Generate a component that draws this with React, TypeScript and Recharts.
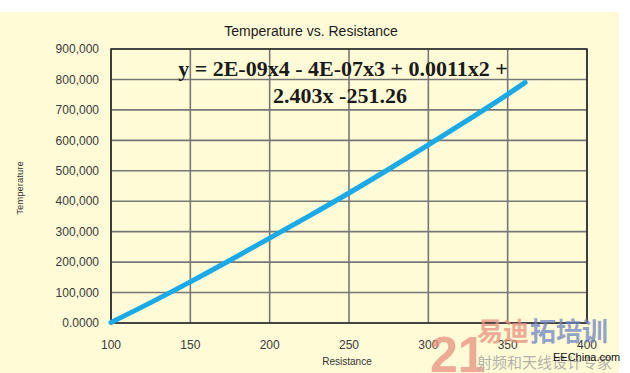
import React from "react";
import { LineChart, Line, XAxis, YAxis, CartesianGrid, ReferenceArea } from "recharts";

const resistance = [100, 125, 150, 175, 200, 225, 250, 275, 300, 325, 350, 361];
const temperature = [2000, 67000, 135000, 206000, 279000, 352000, 427000, 505000, 585000, 667000, 751000, 790000];
const xTicks = [100, 150, 200, 250, 300, 350, 400];
const yTicks = [0, 100000, 200000, 300000, 400000, 500000, 600000, 700000, 800000, 900000];
const equationLines = ["y = 2E-09x4 - 4E-07x3 + 0.0011x2 +", "2.403x -251.26"];

const data = resistance.map((r, i) => ({ r, t: temperature[i] }));

const sans = "'Liberation Sans', Arial, Helvetica, sans-serif";
const serif = "'Liberation Serif', 'Times New Roman', serif";

const fmtY = (v: number) => (v === 0 ? "0.0000" : v.toLocaleString("en-US"));

export default function App() {
  return (
    <div style={{ position: "absolute", left: 0, top: 0, width: 630, height: 373, background: "#ffffff", overflow: "hidden" }}>
      <div style={{ position: "absolute", left: 0, top: 12, width: 619, height: 361, background: "#FFFBD6" }} />
      <div style={{ position: "absolute", left: 0, top: 0 }}>
        <LineChart width={630} height={373} data={data} margin={{ top: 49, right: 43, bottom: 20, left: 51 }}>
          <CartesianGrid stroke="#777777" strokeWidth={1.6} />
          <XAxis
            dataKey="r"
            type="number"
            domain={[100, 400]}
            ticks={xTicks}
            height={30}
            axisLine={false}
            tickLine={false}
            tickSize={6}
            tickMargin={11}
            tick={{ fill: "#3a3a3a", fontSize: 12, fontFamily: sans }}
            interval={0}
          />
          <YAxis
            type="number"
            domain={[0, 900000]}
            ticks={yTicks}
            width={60}
            axisLine={false}
            tickLine={false}
            tickSize={6}
            tickMargin={6}
            tickFormatter={fmtY}
            tick={{ fill: "#3a3a3a", fontSize: 12, fontFamily: sans }}
            interval={0}
          />
          <ReferenceArea x1={100} x2={400} y1={0} y2={900000} fill="none" stroke="#2a2a2a" strokeWidth={1.6} ifOverflow="visible" />
          <Line
            dataKey="t"
            type="monotone"
            stroke="#1AAAE8"
            strokeWidth={5}
            strokeLinecap="round"
            dot={false}
            isAnimationActive={false}
          />
        </LineChart>
      </div>
      <svg width={630} height={373} style={{ position: "absolute", left: 0, top: 0, pointerEvents: "none" }}>
        <text x={311} y={36} textAnchor="middle" fontFamily={sans} fontSize={14} fill="#1a1a1a">
          Temperature vs. Resistance
        </text>
        <text x={343} y={76} textAnchor="middle" fontFamily={serif} fontWeight="bold" fontSize={22} fill="#1a1a1a">
          {equationLines[0]}
        </text>
        <text x={340} y={103} textAnchor="middle" fontFamily={serif} fontWeight="bold" fontSize={22} fill="#1a1a1a">
          {equationLines[1]}
        </text>
        <text x={23} y={188} textAnchor="middle" fontFamily={sans} fontSize={9.5} fill="#333" transform="rotate(-90 23 188)">
          Temperature
        </text>
        <text x={347} y={365} textAnchor="middle" fontFamily={sans} fontSize={10} fill="#333">
          Resistance
        </text>
        <g opacity={0.75}>
          <text x={430} y={372} fontFamily={sans} fontWeight="bold" fontSize={50} fill="#E8907F">21</text>
          <text x={477} y={341} fontFamily="'Noto Sans CJK SC', sans-serif" fontWeight="bold" fontSize={26} fill="#E8907F">易迪</text>
          <text x={530} y={341} fontFamily="'Noto Sans CJK SC', sans-serif" fontWeight="bold" fontSize={26} fill="#6F86C4">拓培训</text>
          <text x={477} y={368} fontFamily="'Noto Sans CJK SC', sans-serif" fontSize={15} fill="#9a9a9a">射频和天线设计专家</text>
        </g>
        <text x={553} y={361} fontFamily={sans} fontSize={11} fill="#111">EEChina.com</text>
      </svg>
    </div>
  );
}
